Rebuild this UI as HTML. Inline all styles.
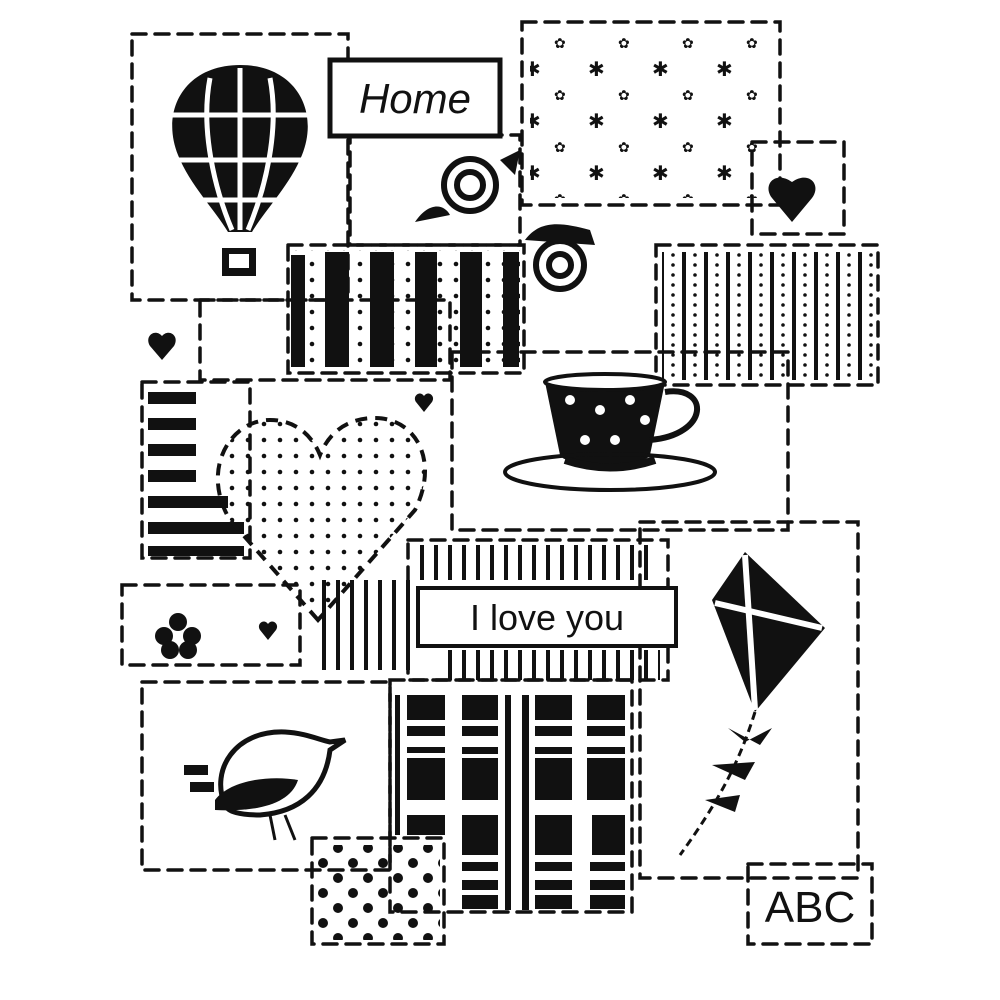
<!DOCTYPE html>
<html><head><meta charset="utf-8"><style>
html,body{margin:0;padding:0;background:#fff;}
svg{display:block}
text{font-family:"Liberation Sans",sans-serif}
</style></head><body>
<svg width="1000" height="1000" viewBox="0 0 1000 1000" xmlns="http://www.w3.org/2000/svg">
<defs>
<pattern id="dots" width="16" height="16" patternUnits="userSpaceOnUse"><circle cx="8" cy="8" r="2.3" fill="#111"/></pattern>
<pattern id="bigdots" width="30" height="30" patternUnits="userSpaceOnUse"><circle cx="8" cy="8" r="5" fill="#111"/><circle cx="23" cy="23" r="5" fill="#111"/></pattern>
<pattern id="vthin" width="22" height="10" patternUnits="userSpaceOnUse"><rect x="0" y="0" width="4" height="10" fill="#111"/><circle cx="13" cy="5" r="1.8" fill="#111"/></pattern>
<pattern id="vstripe" width="14" height="10" patternUnits="userSpaceOnUse"><rect x="0" y="0" width="4" height="10" fill="#111"/></pattern>
<pattern id="stars" width="64" height="52" patternUnits="userSpaceOnUse"><text x="12" y="24" font-size="20" fill="#111">✱</text><text x="42" y="48" font-size="14" fill="#111">✿</text></pattern>
</defs>
<g fill="none" stroke="#111" stroke-width="3.5" stroke-dasharray="14 9" stroke-linecap="round">
<rect x="132" y="34" width="216" height="266"/>
<rect x="522" y="22" width="258" height="183"/>
<rect x="752" y="142" width="92" height="92"/>
<rect x="288" y="245" width="236" height="128"/>
<rect x="656" y="245" width="222" height="140"/>
<rect x="142" y="382" width="108" height="176"/>
<rect x="452" y="352" width="336" height="178"/>
<rect x="640" y="522" width="218" height="356"/>
<rect x="122" y="585" width="178" height="80"/>
<rect x="142" y="682" width="248" height="188"/>
<rect x="390" y="680" width="242" height="232"/>
<rect x="312" y="838" width="132" height="106"/>
<rect x="748" y="864" width="124" height="80"/>
<rect x="200" y="300" width="250" height="80"/>
<rect x="350" y="135" width="170" height="110"/>
<rect x="408" y="540" width="260" height="140"/>
</g>
<!-- balloon -->
<path d="M240,65 C185,65 160,110 178,155 C190,185 215,210 228,232 L252,232 C265,210 290,185 302,155 C320,110 295,65 240,65Z" fill="#111"/>
<g stroke="#fff" stroke-width="5" fill="none"><path d="M240,68 V230"/><path d="M210,78 C200,130 215,190 232,230"/><path d="M270,78 C280,130 265,190 248,230"/><path d="M172,115 H308"/><path d="M175,160 H305"/><path d="M200,200 H280"/></g>
<rect x="222" y="248" width="34" height="28" fill="#111"/><rect x="229" y="254" width="20" height="14" fill="#fff"/>
<!-- Home -->
<rect x="330" y="60" width="170" height="76" fill="#fff" stroke="#111" stroke-width="5"/>
<text x="415" y="113" font-size="42" text-anchor="middle" font-family="Liberation Serif,serif" font-style="italic" fill="#111">Home</text>
<!-- stars patch -->
<rect x="530" y="30" width="242" height="168" fill="url(#stars)"/>
<!-- heart -->
<path d="M792,222 L772,198 C762,185 775,170 792,182 C809,170 822,185 812,198Z" fill="#111"/>
<!-- roses -->
<g fill="none" stroke="#111" stroke-width="6"><circle cx="470" cy="185" r="26"/><circle cx="470" cy="185" r="13"/><circle cx="560" cy="265" r="24"/><circle cx="560" cy="265" r="11"/></g>
<path d="M415,222 C430,200 445,205 450,215 Z M525,240 C540,220 560,222 590,230 L595,245 Z M500,160 L520,150 L515,175Z" fill="#111"/>
<!-- stripes patch -->
<rect x="292" y="250" width="228" height="118" fill="url(#dots)"/>
<g fill="#111"><rect x="291" y="255" width="14" height="112"/><rect x="325" y="252" width="24" height="115"/><rect x="370" y="252" width="24" height="115"/><rect x="415" y="252" width="22" height="115"/><rect x="460" y="252" width="22" height="115"/><rect x="503" y="252" width="16" height="115"/></g>
<!-- right thin stripes -->
<rect x="662" y="252" width="212" height="128" fill="url(#vthin)"/>
<!-- left horizontal stripes -->
<g fill="#111"><rect x="148" y="392" width="48" height="12"/><rect x="148" y="418" width="48" height="12"/><rect x="148" y="444" width="48" height="12"/><rect x="148" y="470" width="48" height="12"/><rect x="148" y="496" width="80" height="12"/><rect x="148" y="522" width="96" height="12"/><rect x="148" y="546" width="96" height="10"/></g>
<!-- big heart -->
<path d="M318,620 L230,520 C200,470 230,420 270,420 C295,420 312,435 320,455 C330,430 350,418 375,418 C415,418 440,460 415,510 Z" fill="url(#dots)" stroke="#111" stroke-width="4" stroke-dasharray="12 8"/>
<rect x="320" y="580" width="90" height="90" fill="url(#vstripe)"/>
<!-- small hearts -->
<path d="M162,360 L150,346 C144,336 155,328 162,336 C169,328 180,336 174,346Z" fill="#111"/>
<path d="M424,412 L416,402 C412,396 420,390 424,396 C428,390 436,396 432,402Z" fill="#111"/>
<!-- teacup -->
<path d="M545,382 H665 L650,455 C645,468 565,468 560,455 Z" fill="#111"/>
<ellipse cx="605" cy="382" rx="60" ry="8" fill="#fff" stroke="#111" stroke-width="4"/>
<path d="M665,392 C710,385 710,435 650,440" fill="none" stroke="#111" stroke-width="6"/>
<g fill="#fff"><circle cx="570" cy="400" r="5"/><circle cx="600" cy="410" r="5"/><circle cx="630" cy="400" r="5"/><circle cx="585" cy="440" r="5"/><circle cx="615" cy="440" r="5"/><circle cx="645" cy="420" r="5"/></g>
<ellipse cx="610" cy="472" rx="105" ry="18" fill="none" stroke="#111" stroke-width="4"/>
<path d="M565,460 Q610,475 655,460" stroke="#111" stroke-width="8" fill="none"/>
<!-- I love you -->
<rect x="418" y="588" width="258" height="58" fill="#fff" stroke="#111" stroke-width="4"/>
<text x="547" y="630" font-size="36" text-anchor="middle" font-family="Liberation Serif,serif" fill="#111">I love you</text>
<rect x="440" y="650" width="220" height="30" fill="url(#vstripe)"/>
<rect x="420" y="545" width="230" height="35" fill="url(#vstripe)"/>
<!-- plaid -->
<g fill="#111">
<rect x="407" y="695" width="38" height="25"/><rect x="462" y="695" width="36" height="25"/><rect x="535" y="695" width="37" height="25"/><rect x="587" y="695" width="38" height="25"/>
<rect x="407" y="726" width="38" height="10"/><rect x="462" y="726" width="36" height="10"/><rect x="535" y="726" width="37" height="10"/><rect x="587" y="726" width="38" height="10"/>
<rect x="407" y="747" width="38" height="6"/><rect x="462" y="747" width="36" height="7"/><rect x="535" y="747" width="37" height="7"/><rect x="587" y="747" width="38" height="7"/>
<rect x="407" y="758" width="38" height="42"/><rect x="462" y="758" width="36" height="42"/><rect x="535" y="758" width="37" height="42"/><rect x="587" y="758" width="38" height="42"/>
<rect x="407" y="815" width="38" height="20"/><rect x="462" y="815" width="36" height="40"/><rect x="535" y="815" width="37" height="40"/><rect x="592" y="815" width="33" height="40"/>
<rect x="462" y="862" width="36" height="9"/><rect x="535" y="862" width="37" height="9"/><rect x="590" y="862" width="35" height="9"/>
<rect x="462" y="880" width="36" height="10"/><rect x="535" y="880" width="37" height="10"/><rect x="590" y="880" width="35" height="10"/>
<rect x="462" y="895" width="36" height="14"/><rect x="535" y="895" width="37" height="14"/><rect x="590" y="895" width="35" height="14"/>
<rect x="505" y="695" width="6" height="215"/><rect x="522" y="695" width="7" height="215"/>
<rect x="395" y="695" width="5" height="140"/>
</g>
<!-- kite -->
<path d="M745,552 L825,628 L755,712 L712,600 Z" fill="#111"/>
<g stroke="#fff" stroke-width="6"><path d="M745,555 L755,710"/><path d="M715,603 L822,628"/></g>
<path d="M755,712 C740,760 720,800 680,855" fill="none" stroke="#111" stroke-width="3" stroke-dasharray="8 5"/>
<g fill="#111"><path d="M728,728 L760,745 L772,728 L745,742 Z"/><path d="M712,765 L745,780 L755,762 Z"/><path d="M705,800 L735,812 L740,795 Z"/></g>
<!-- flower -->
<g fill="#111"><circle cx="178" cy="622" r="9"/><circle cx="164" cy="636" r="9"/><circle cx="192" cy="636" r="9"/><circle cx="170" cy="650" r="9"/><circle cx="188" cy="650" r="9"/></g>
<path d="M268,640 L260,630 C256,624 264,618 268,624 C272,618 280,624 276,630Z" fill="#111"/>
<!-- bird -->
<path d="M225,805 C210,770 235,730 285,732 C305,733 320,740 330,742 L345,740 L330,750 C325,790 300,812 260,815 C240,815 228,812 225,805 Z" fill="none" stroke="#111" stroke-width="5"/>
<path d="M215,800 C230,780 270,775 298,780 C290,805 255,812 215,810 Z" fill="#111"/>
<rect x="184" y="765" width="24" height="10" fill="#111"/><rect x="190" y="782" width="24" height="10" fill="#111"/>
<path d="M270,815 L275,840 M285,815 L295,840" stroke="#111" stroke-width="3"/>
<!-- dots patch -->
<rect x="318" y="845" width="122" height="95" fill="url(#bigdots)"/>
<!-- ABC -->
<text x="810" y="922" font-size="44" text-anchor="middle" fill="#111" font-family="Liberation Sans,sans-serif">ABC</text>
</svg>
</body></html>
